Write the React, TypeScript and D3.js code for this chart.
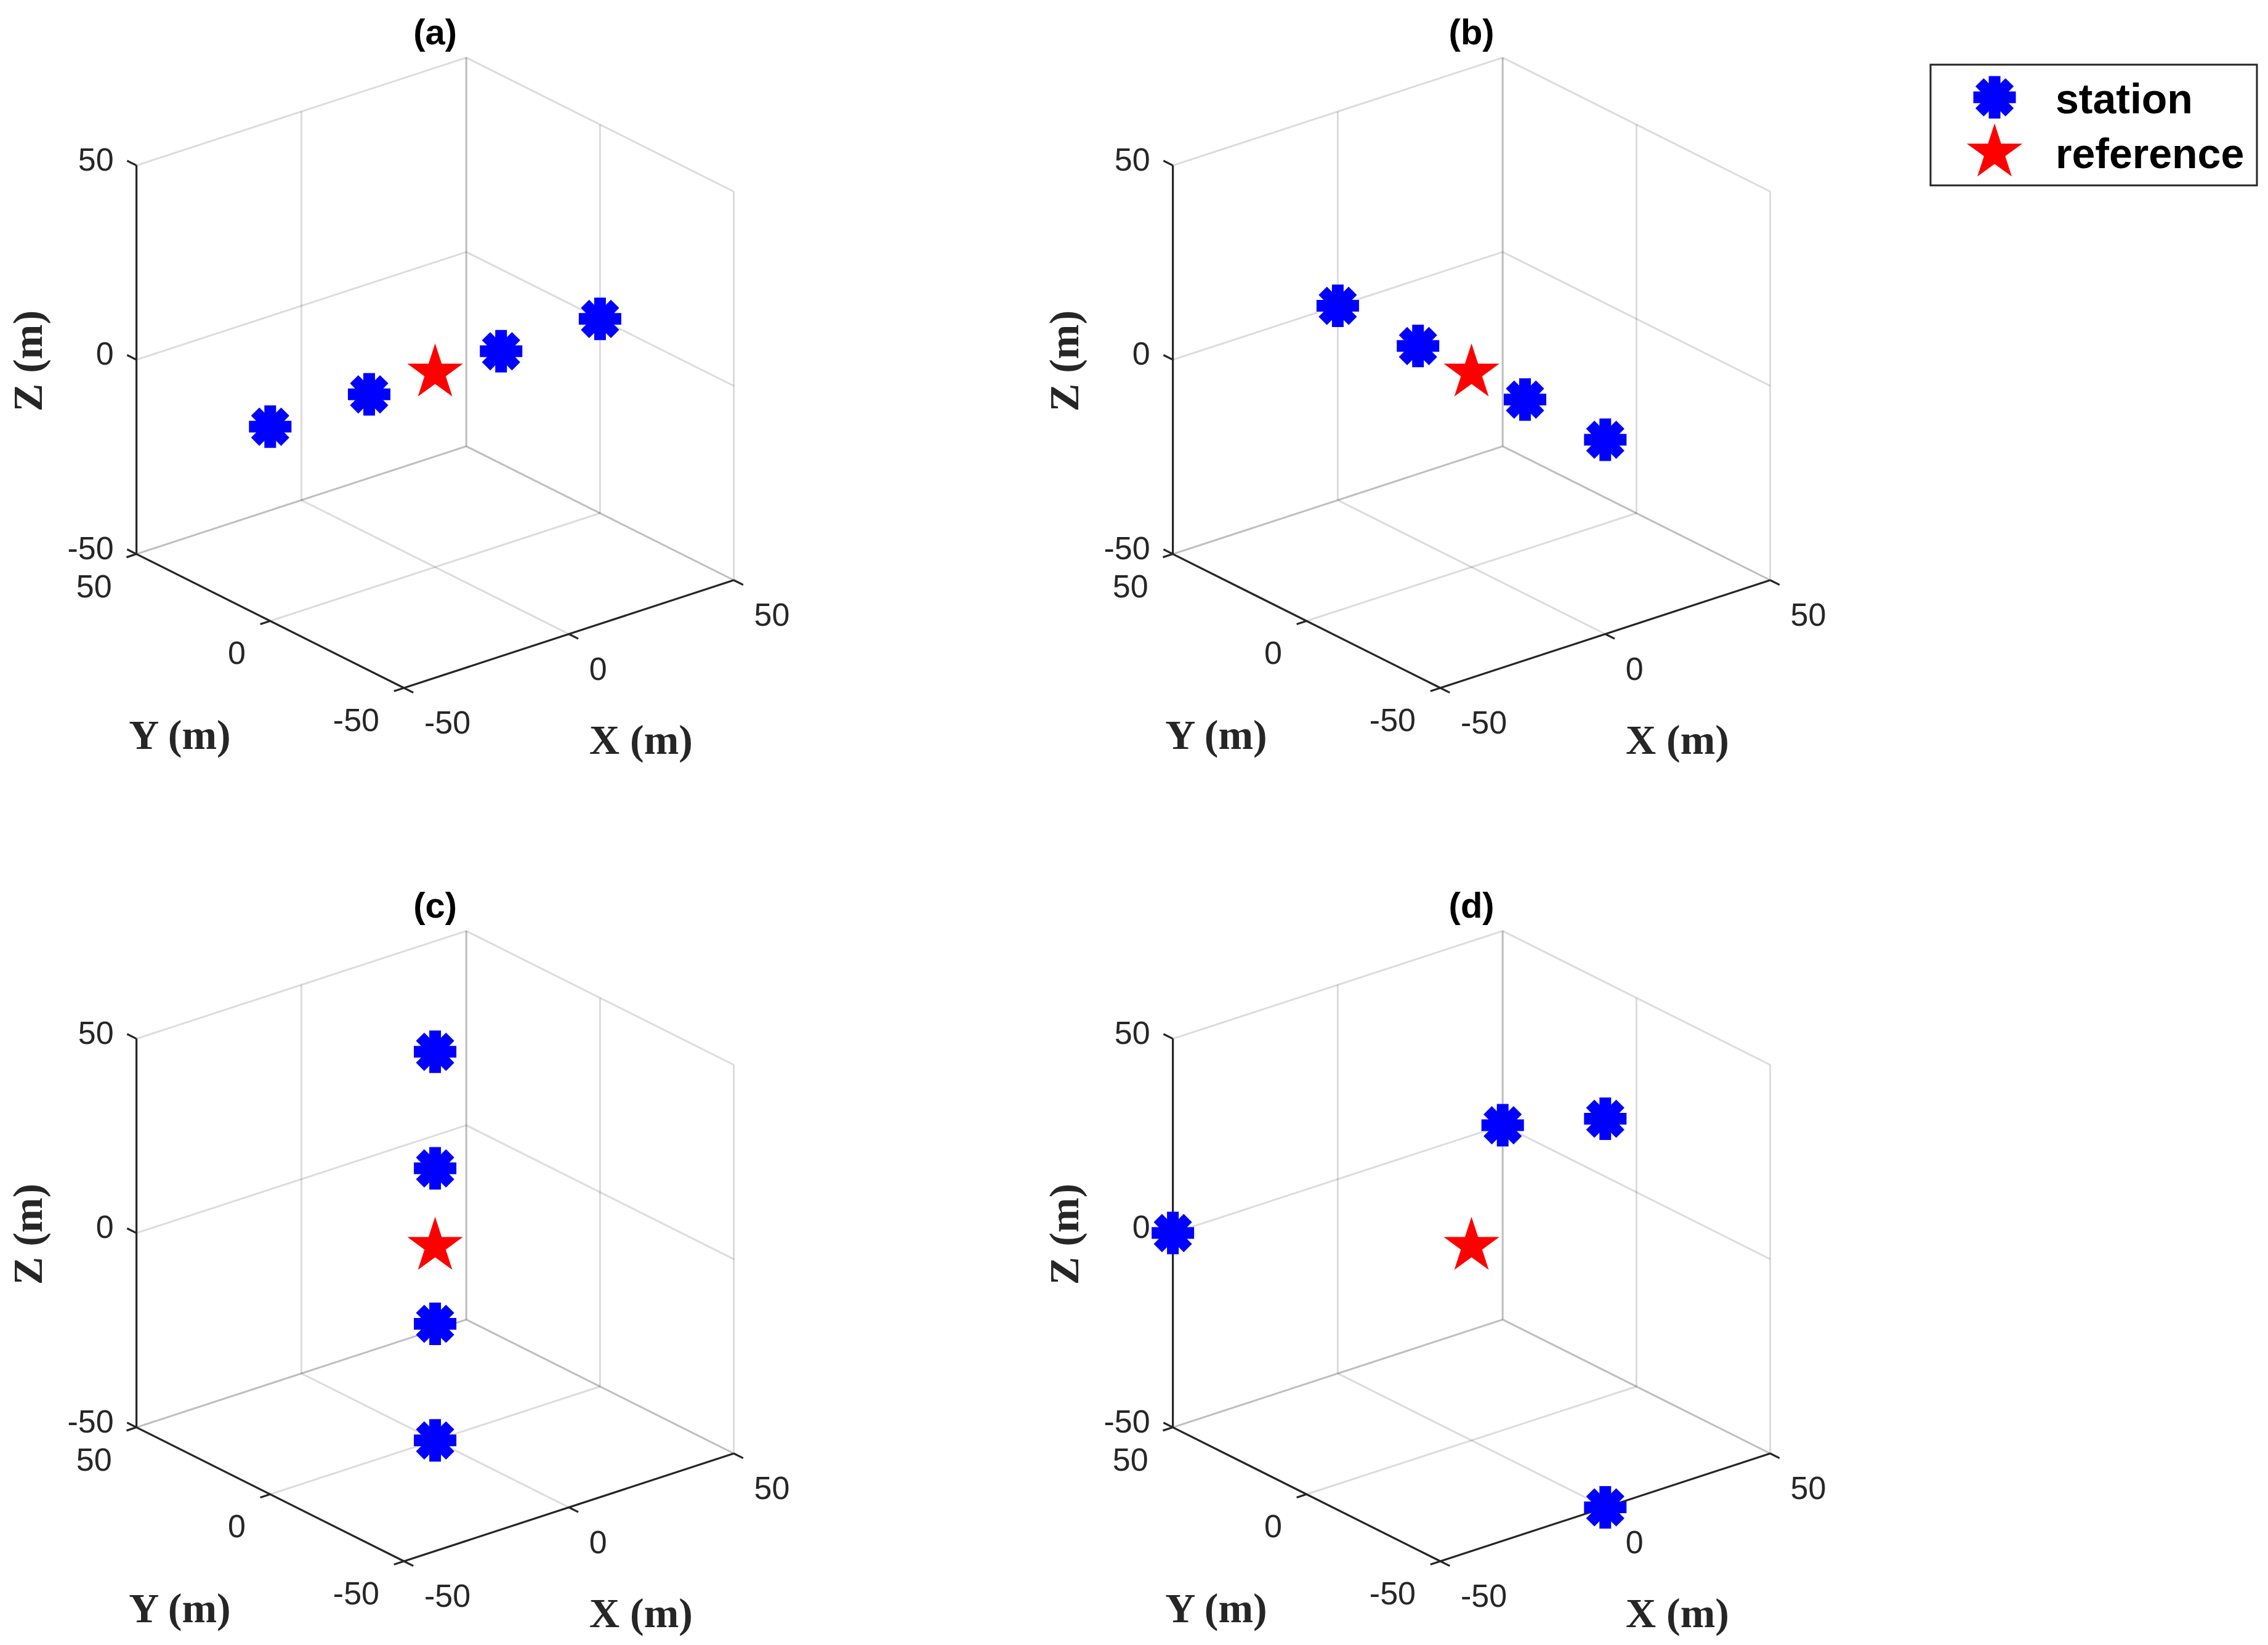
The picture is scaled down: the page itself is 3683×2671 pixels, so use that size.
import React from "react";
import * as d3 from "d3";

const W = 3683;
const H = 2671;

// axis ticks (same on x, y, z)
const tickValues = [-50, 0, 50];
const axisDomain = [-50, 50];
const panelTitles = ["(a)", "(b)", "(c)", "(d)"];
const legendLabels = ["station", "reference"];

// station positions [x, y, z] in metres
const stationsA = [[-50, 0, 0], [-20, 0, 0], [20, 0, 0], [50, 0, 0]];
const stationsB = [[0, 50, 0], [0, 20, 0], [0, -20, 0], [0, -50, 0]];
const stationsC = [[0, 0, 50], [0, 0, 20], [0, 0, -20], [0, 0, -50]];
const stationsD = [[-50, 50, 0], [50, 50, 0], [0, -50, 50], [0, -50, -50]];
const referencePoint = [0, 0, 0];

const allStations = [stationsA, stationsB, stationsC, stationsD];

// screen vectors of a full axis span (view of the 3-D box)
const EX = [535.6, -175];
const EY = [-434.4, -217.4];
const EZ = [0, -631];
// front-bottom corner (x=-50, y=-50, z=-50) of each panel
const panelOrigins = [[656, 1117], [2339, 1117], [656, 2535], [2339, 2535]];

const AX = "#262626";
const GRID = "rgba(38,38,38,0.16)";
const SANS = "'Liberation Sans', Arial, Helvetica, sans-serif";
const SERIF = "'Liberation Serif', 'Times New Roman', serif";

const unit = (v) => {
  const l = Math.hypot(v[0], v[1]);
  return [v[0] / l, v[1] / l];
};

function Asterisk({ x, y, r = 34.5 }) {
  return (
    <g transform={`translate(${x},${y})`}>
      {[0, 45, 90, 135].map(a => {
        const t = (a * Math.PI) / 180;
        return (
          <line key={a}
            x1={-r * Math.cos(t)} y1={-r * Math.sin(t)}
            x2={r * Math.cos(t)} y2={r * Math.sin(t)}
            stroke="#0000ff" strokeWidth={19} strokeLinecap="butt" />
        );
      })}
    </g>
  );
}

const starPath = d3.symbol().type(d3.symbolStar).size(2533)();

function Star({ x, y }) {
  return <path d={starPath} transform={`translate(${x},${y})`} fill="#ff0000" />;
}

function Panel({ title, stations, origin }) {
  const s = d3.scaleLinear().domain(axisDomain).range([0, 1]);
  const proj = ([x, y, z]) => {
    const a = s(x), b = s(y), c = s(z);
    return [
      origin[0] + a * EX[0] + b * EY[0] + c * EZ[0],
      origin[1] + a * EX[1] + b * EY[1] + c * EZ[1]
    ];
  };
  const line = d3.line();
  const seg = (p, q) => line([proj(p), proj(q)]);

  // grid on back walls and floor
  const grid = [];
  tickValues.forEach(t => {
    grid.push(seg([t, 50, -50], [t, 50, 50]));
    grid.push(seg([-50, 50, t], [50, 50, t]));
    grid.push(seg([50, t, -50], [50, t, 50]));
    grid.push(seg([50, -50, t], [50, 50, t]));
    grid.push(seg([t, -50, -50], [t, 50, -50]));
    grid.push(seg([-50, t, -50], [50, t, -50]));
  });

  const uy = unit(EY);
  const ux = unit(EX);
  const tl = 17;
  const center = proj(referencePoint);
  const top = proj([50, 50, 50]);

  return (
    <g>
      {grid.map((d, i) => (
        <path key={i} d={d} stroke={GRID} strokeWidth={3} fill="none" />
      ))}
      <path d={seg([-50, 50, -50], [-50, 50, 50])} stroke={AX} strokeWidth={3.2} fill="none" />
      <path d={seg([-50, -50, -50], [-50, 50, -50])} stroke={AX} strokeWidth={3.2} fill="none" />
      <path d={seg([-50, -50, -50], [50, -50, -50])} stroke={AX} strokeWidth={3.2} fill="none" />

      {tickValues.map(t => {
        const pz = proj([-50, 50, t]);
        const py = proj([-50, t, -50]);
        const px = proj([t, -50, -50]);
        return (
          <g key={t} fontFamily={SANS} fontSize={52} fill={AX}>
            <line x1={pz[0]} y1={pz[1]} x2={pz[0] + tl * uy[0]} y2={pz[1] + tl * uy[1]} stroke={AX} strokeWidth={3.2} />
            <line x1={py[0]} y1={py[1]} x2={py[0] - tl * ux[0]} y2={py[1] - tl * ux[1]} stroke={AX} strokeWidth={3.2} />
            <line x1={px[0]} y1={px[1]} x2={px[0] - tl * uy[0]} y2={px[1] - tl * uy[1]} stroke={AX} strokeWidth={3.2} />
            <text x={pz[0] - 37} y={pz[1] + 8} textAnchor="end">{t}</text>
            <text x={py[0] - 40} y={py[1] + 70} textAnchor="end">{t}</text>
            <text x={px[0] + 33} y={px[1] + 74} textAnchor="start">{t}</text>
          </g>
        );
      })}

      <g fontFamily={SERIF} fontWeight="bold" fontSize={68} fill={AX}>
        <text x={origin[0] - 364} y={origin[1] + 99} textAnchor="middle">Y (m)</text>
        <text x={origin[0] + 385} y={origin[1] + 107} textAnchor="middle">X (m)</text>
        <text transform={`translate(${origin[0] - 588},${origin[1] - 531}) rotate(-90)`} textAnchor="middle">Z (m)</text>
      </g>

      <text x={center[0]} y={top[1] - 22} textAnchor="middle" fontFamily={SANS}
        fontWeight="bold" fontSize={58} fill="#000">{title}</text>

      {stations.map((p, i) => {
        const q = proj(p);
        return <Asterisk key={i} x={q[0]} y={q[1]} />;
      })}
      <Star x={center[0]} y={center[1]} />
    </g>
  );
}

function Legend() {
  return (
    <g>
      <rect x={3135} y={105} width={530} height={196} fill="#fff" stroke={AX} strokeWidth={3} />
      <Asterisk x={3239} y={158} />
      <Star x={3239} y={248} />
      <g fontFamily={SANS} fontWeight="bold" fontSize={68} fill="#000">
        <text x={3338} y={184}>{legendLabels[0]}</text>
        <text x={3338} y={273}>{legendLabels[1]}</text>
      </g>
    </g>
  );
}

export default function App() {
  return (
    <svg width={W} height={H} style={{ position: "absolute", left: 0, top: 0, background: "#fff" }}>
      {panelTitles.map((t, i) => (
        <Panel key={t} title={t} stations={allStations[i]} origin={panelOrigins[i]} />
      ))}
      <Legend />
    </svg>
  );
}
